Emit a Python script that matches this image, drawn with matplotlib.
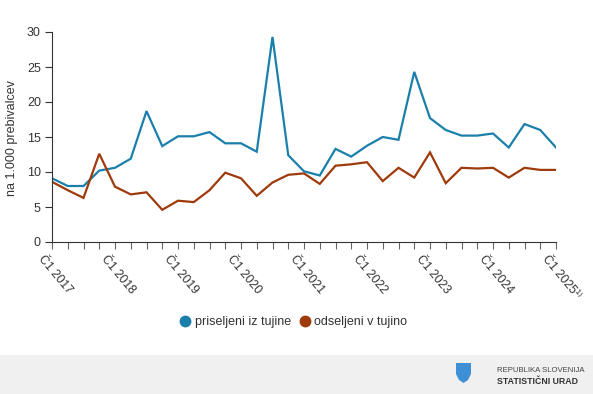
import matplotlib
matplotlib.use("Agg")
import matplotlib.pyplot as plt
import matplotlib.transforms as mtransforms
from matplotlib.patches import Rectangle, Polygon
from matplotlib.lines import Line2D

plt.rcParams['font.family'] = ['Liberation Sans', 'DejaVu Sans']

years = [2017, 2018, 2019, 2020, 2021, 2022, 2023, 2024, 2025]
tick_labels = ["Č1 2017", "Č1 2018", "Č1 2019", "Č1 2020", "Č1 2021",
               "Č1 2022", "Č1 2023", "Č1 2024", "Č1 2025¹⁾"]

priseljeni = [9.1, 8.0, 8.0, 10.2, 10.6, 11.9, 18.7, 13.7, 15.1, 15.1, 15.7,
              14.1, 14.1, 12.9, 29.3, 12.4, 10.1, 9.5, 13.3, 12.2, 13.75,
              15.0, 14.6, 24.3, 17.7, 16.0, 15.2, 15.2, 15.5, 13.5, 16.85,
              16.0, 13.5]
odseljeni = [8.6, 7.4, 6.3, 12.6, 7.9, 6.8, 7.1, 4.6, 5.9, 5.7, 7.4,
             9.9, 9.1, 6.6, 8.5, 9.6, 9.8, 8.3, 10.9, 11.1, 11.4,
             8.7, 10.6, 9.2, 12.8, 8.4, 10.6, 10.5, 10.6, 9.2, 10.6,
             10.3, 10.3]

series_names = ["priseljeni iz tujine", "odseljeni v tujino"]
blue = "#1a80ab"
brown = "#9e3a0c"

W, H = 593, 394
fig = plt.figure(figsize=(W / 100, H / 100), dpi=100)
ax = fig.add_axes([52 / W, (H - 242) / H, (556 - 52) / W, (242 - 32) / H])

x = list(range(len(priseljeni)))
ax.plot(x, priseljeni, color=blue, lw=1.6, solid_joinstyle='miter')
ax.plot(x, odseljeni, color=brown, lw=1.6, solid_joinstyle='miter')

ax.set_xlim(0, len(priseljeni) - 1)
ax.set_ylim(0, 30)
ax.set_yticks([0, 5, 10, 15, 20, 25, 30])
ax.tick_params(axis='y', length=5, width=0.8, color='#333333', labelsize=9,
               labelcolor='#333333', pad=3)

major = list(range(0, len(priseljeni), 4))
ax.set_xticks(major)
ax.set_xticks(x, minor=True)
ax.set_xticklabels(tick_labels)
ax.tick_params(axis='x', which='both', length=5, width=0.8, color='#666666',
               labelsize=8.7, labelcolor='#333333', pad=2)
offset = mtransforms.ScaledTranslation(-12 / 100, -5 / 100, fig.dpi_scale_trans)
for lab in ax.get_xticklabels():
    lab.set_rotation(-50)
    lab.set_rotation_mode('anchor')
    lab.set_ha('left')
    lab.set_va('center')
    lab.set_transform(lab.get_transform() + offset)

for s in ['top', 'right']:
    ax.spines[s].set_visible(False)
ax.spines['left'].set_color('#333333')
ax.spines['left'].set_linewidth(0.8)
ax.spines['bottom'].set_color('#333333')
ax.spines['bottom'].set_linewidth(0.8)

fig.text(12 / W, (H - 138) / H, "na 1.000 prebivalcev", rotation=90,
         ha='center', va='center', fontsize=9, color='#333333')

handles = [Line2D([], [], marker='o', ls='none', color=blue, markersize=7.5),
           Line2D([], [], marker='o', ls='none', color=brown, markersize=7.5)]
fig.legend(handles, series_names, loc='center', bbox_to_anchor=(293 / W, (H - 322) / H),
           ncol=2, frameon=False, fontsize=9, handletextpad=0.25, columnspacing=0.6,
           labelcolor='#333333', handlelength=1.0)

# footer
fig.patches.append(Rectangle((0, 0), 1, 39 / H, transform=fig.transFigure,
                             facecolor='#f0f0f0', edgecolor='none', zorder=-1))
shield = [(456, 363), (471, 363), (471, 374), (468, 380), (463.5, 383), (459, 380), (456, 374)]
fig.patches.append(Polygon([(px / W, (H - py) / H) for px, py in shield], closed=True,
                           transform=fig.transFigure, facecolor='#3d8fd6', edgecolor='none'))
fig.text(497 / W, (H - 370) / H, "REPUBLIKA SLOVENIJA", fontsize=5.6, color='#444444',
         ha='left', va='center')
fig.text(497 / W, (H - 381) / H, "STATISTIČNI URAD", fontsize=6.3, color='#333333',
         ha='left', va='center', fontweight='bold')

fig.savefig("out.png", dpi=100)
